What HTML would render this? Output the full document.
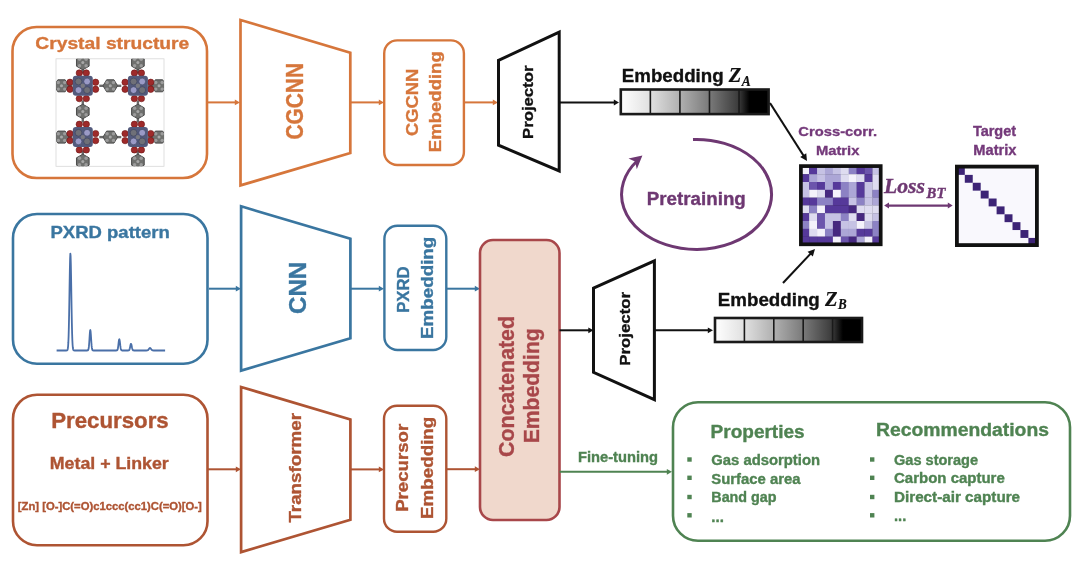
<!DOCTYPE html>
<html><head><meta charset="utf-8"><style>
html,body{margin:0;padding:0;background:#fff;}
svg{display:block;filter:blur(0.45px);}
</style></head><body>
<svg width="1080" height="588" viewBox="0 0 1080 588">
<rect width="1080" height="588" fill="#fff"/>
<rect x="12.5" y="27" width="194.5" height="151" rx="24" ry="24" fill="none" stroke="#d6763b" stroke-width="2.6"/><text x="35.3" y="48.7" font-family='"Liberation Sans", sans-serif' font-size="17" font-weight="bold" font-style="normal" fill="#d6763b" stroke="#d6763b" stroke-width="0.35" text-anchor="start" textLength="154" lengthAdjust="spacingAndGlyphs">Crystal structure</text><defs><clipPath id="cclip"><rect x="56" y="58.8" width="108" height="107.5"/></clipPath></defs><rect x="56" y="58.8" width="108" height="107.5" fill="#fff" stroke="#d8d8d8" stroke-width="0.8"/><rect x="99.3" y="84.6" width="22" height="2.4" fill="#6a6a6a"/><polygon points="117.60,85.80 113.95,91.81 106.65,91.81 103.00,85.80 106.65,79.79 113.95,79.79" fill="#6f706e" stroke="#4c4c4c" stroke-width="1"/><circle cx="107.10" cy="82.50" r="1.7" fill="#9c9c9c"/><circle cx="113.50" cy="82.50" r="1.7" fill="#9c9c9c"/><circle cx="107.10" cy="89.10" r="1.7" fill="#9c9c9c"/><circle cx="113.50" cy="89.10" r="1.7" fill="#9c9c9c"/><circle cx="110.3" cy="85.8" r="1.5" fill="#a8a8a8"/><rect x="99.3" y="135.9" width="22" height="2.4" fill="#6a6a6a"/><polygon points="117.60,137.10 113.95,143.11 106.65,143.11 103.00,137.10 106.65,131.09 113.95,131.09" fill="#6f706e" stroke="#4c4c4c" stroke-width="1"/><circle cx="107.10" cy="133.80" r="1.7" fill="#9c9c9c"/><circle cx="113.50" cy="133.80" r="1.7" fill="#9c9c9c"/><circle cx="107.10" cy="140.40" r="1.7" fill="#9c9c9c"/><circle cx="113.50" cy="140.40" r="1.7" fill="#9c9c9c"/><circle cx="110.3" cy="137.1" r="1.5" fill="#a8a8a8"/><rect x="81.6" y="100.5" width="2.4" height="22" fill="#6a6a6a"/><polygon points="89.12,115.15 82.80,118.80 76.48,115.15 76.48,107.85 82.80,104.20 89.12,107.85" fill="#6f706e" stroke="#4c4c4c" stroke-width="1"/><circle cx="79.50" cy="108.30" r="1.7" fill="#9c9c9c"/><circle cx="79.50" cy="114.70" r="1.7" fill="#9c9c9c"/><circle cx="86.10" cy="108.30" r="1.7" fill="#9c9c9c"/><circle cx="86.10" cy="114.70" r="1.7" fill="#9c9c9c"/><circle cx="82.8" cy="111.5" r="1.5" fill="#a8a8a8"/><rect x="136.70000000000002" y="100.5" width="2.4" height="22" fill="#6a6a6a"/><polygon points="144.22,115.15 137.90,118.80 131.58,115.15 131.58,107.85 137.90,104.20 144.22,107.85" fill="#6f706e" stroke="#4c4c4c" stroke-width="1"/><circle cx="134.60" cy="108.30" r="1.7" fill="#9c9c9c"/><circle cx="134.60" cy="114.70" r="1.7" fill="#9c9c9c"/><circle cx="141.20" cy="108.30" r="1.7" fill="#9c9c9c"/><circle cx="141.20" cy="114.70" r="1.7" fill="#9c9c9c"/><circle cx="137.9" cy="111.5" r="1.5" fill="#a8a8a8"/><g clip-path="url(#cclip)"><rect x="50.5" y="84.6" width="22" height="2.4" fill="#6a6a6a"/><polygon points="68.80,85.80 65.15,91.81 57.85,91.81 54.20,85.80 57.85,79.79 65.15,79.79" fill="#6f706e" stroke="#4c4c4c" stroke-width="1"/><circle cx="58.30" cy="82.50" r="1.7" fill="#9c9c9c"/><circle cx="64.70" cy="82.50" r="1.7" fill="#9c9c9c"/><circle cx="58.30" cy="89.10" r="1.7" fill="#9c9c9c"/><circle cx="64.70" cy="89.10" r="1.7" fill="#9c9c9c"/><circle cx="61.5" cy="85.8" r="1.5" fill="#a8a8a8"/><rect x="148" y="84.6" width="22" height="2.4" fill="#6a6a6a"/><polygon points="166.30,85.80 162.65,91.81 155.35,91.81 151.70,85.80 155.35,79.79 162.65,79.79" fill="#6f706e" stroke="#4c4c4c" stroke-width="1"/><circle cx="155.80" cy="82.50" r="1.7" fill="#9c9c9c"/><circle cx="162.20" cy="82.50" r="1.7" fill="#9c9c9c"/><circle cx="155.80" cy="89.10" r="1.7" fill="#9c9c9c"/><circle cx="162.20" cy="89.10" r="1.7" fill="#9c9c9c"/><circle cx="159" cy="85.8" r="1.5" fill="#a8a8a8"/><rect x="50.5" y="135.9" width="22" height="2.4" fill="#6a6a6a"/><polygon points="68.80,137.10 65.15,143.11 57.85,143.11 54.20,137.10 57.85,131.09 65.15,131.09" fill="#6f706e" stroke="#4c4c4c" stroke-width="1"/><circle cx="58.30" cy="133.80" r="1.7" fill="#9c9c9c"/><circle cx="64.70" cy="133.80" r="1.7" fill="#9c9c9c"/><circle cx="58.30" cy="140.40" r="1.7" fill="#9c9c9c"/><circle cx="64.70" cy="140.40" r="1.7" fill="#9c9c9c"/><circle cx="61.5" cy="137.1" r="1.5" fill="#a8a8a8"/><rect x="148" y="135.9" width="22" height="2.4" fill="#6a6a6a"/><polygon points="166.30,137.10 162.65,143.11 155.35,143.11 151.70,137.10 155.35,131.09 162.65,131.09" fill="#6f706e" stroke="#4c4c4c" stroke-width="1"/><circle cx="155.80" cy="133.80" r="1.7" fill="#9c9c9c"/><circle cx="162.20" cy="133.80" r="1.7" fill="#9c9c9c"/><circle cx="155.80" cy="140.40" r="1.7" fill="#9c9c9c"/><circle cx="162.20" cy="140.40" r="1.7" fill="#9c9c9c"/><circle cx="159" cy="137.1" r="1.5" fill="#a8a8a8"/><rect x="81.6" y="51.5" width="2.4" height="22" fill="#6a6a6a"/><polygon points="89.12,66.15 82.80,69.80 76.48,66.15 76.48,58.85 82.80,55.20 89.12,58.85" fill="#6f706e" stroke="#4c4c4c" stroke-width="1"/><circle cx="79.50" cy="59.30" r="1.7" fill="#9c9c9c"/><circle cx="79.50" cy="65.70" r="1.7" fill="#9c9c9c"/><circle cx="86.10" cy="59.30" r="1.7" fill="#9c9c9c"/><circle cx="86.10" cy="65.70" r="1.7" fill="#9c9c9c"/><circle cx="82.8" cy="62.5" r="1.5" fill="#a8a8a8"/><rect x="81.6" y="150.5" width="2.4" height="22" fill="#6a6a6a"/><polygon points="89.12,165.15 82.80,168.80 76.48,165.15 76.48,157.85 82.80,154.20 89.12,157.85" fill="#6f706e" stroke="#4c4c4c" stroke-width="1"/><circle cx="79.50" cy="158.30" r="1.7" fill="#9c9c9c"/><circle cx="79.50" cy="164.70" r="1.7" fill="#9c9c9c"/><circle cx="86.10" cy="158.30" r="1.7" fill="#9c9c9c"/><circle cx="86.10" cy="164.70" r="1.7" fill="#9c9c9c"/><circle cx="82.8" cy="161.5" r="1.5" fill="#a8a8a8"/><rect x="136.70000000000002" y="51.5" width="2.4" height="22" fill="#6a6a6a"/><polygon points="144.22,66.15 137.90,69.80 131.58,66.15 131.58,58.85 137.90,55.20 144.22,58.85" fill="#6f706e" stroke="#4c4c4c" stroke-width="1"/><circle cx="134.60" cy="59.30" r="1.7" fill="#9c9c9c"/><circle cx="134.60" cy="65.70" r="1.7" fill="#9c9c9c"/><circle cx="141.20" cy="59.30" r="1.7" fill="#9c9c9c"/><circle cx="141.20" cy="65.70" r="1.7" fill="#9c9c9c"/><circle cx="137.9" cy="62.5" r="1.5" fill="#a8a8a8"/><rect x="136.70000000000002" y="150.5" width="2.4" height="22" fill="#6a6a6a"/><polygon points="144.22,165.15 137.90,168.80 131.58,165.15 131.58,157.85 137.90,154.20 144.22,157.85" fill="#6f706e" stroke="#4c4c4c" stroke-width="1"/><circle cx="134.60" cy="158.30" r="1.7" fill="#9c9c9c"/><circle cx="134.60" cy="164.70" r="1.7" fill="#9c9c9c"/><circle cx="141.20" cy="158.30" r="1.7" fill="#9c9c9c"/><circle cx="141.20" cy="164.70" r="1.7" fill="#9c9c9c"/><circle cx="137.9" cy="161.5" r="1.5" fill="#a8a8a8"/></g><circle cx="70.0" cy="82.3" r="3.2" fill="#9e2a2a" stroke="#6e1616" stroke-width="0.6"/><circle cx="79.3" cy="73.0" r="3.2" fill="#9e2a2a" stroke="#6e1616" stroke-width="0.6"/><circle cx="70.0" cy="89.3" r="3.2" fill="#9e2a2a" stroke="#6e1616" stroke-width="0.6"/><circle cx="86.3" cy="73.0" r="3.2" fill="#9e2a2a" stroke="#6e1616" stroke-width="0.6"/><circle cx="95.6" cy="82.3" r="3.2" fill="#9e2a2a" stroke="#6e1616" stroke-width="0.6"/><circle cx="79.3" cy="98.6" r="3.2" fill="#9e2a2a" stroke="#6e1616" stroke-width="0.6"/><circle cx="95.6" cy="89.3" r="3.2" fill="#9e2a2a" stroke="#6e1616" stroke-width="0.6"/><circle cx="86.3" cy="98.6" r="3.2" fill="#9e2a2a" stroke="#6e1616" stroke-width="0.6"/><rect x="72.8" y="75.8" width="20" height="20" rx="3" fill="#535a7c"/><circle cx="78.5" cy="81.5" r="3.4" fill="#6f7078" stroke="#3a3f5a" stroke-width="0.6"/><circle cx="87.1" cy="81.5" r="3.4" fill="#9a9ac6" stroke="#3a3f5a" stroke-width="0.6"/><circle cx="78.5" cy="90.1" r="3.4" fill="#9a9ac6" stroke="#3a3f5a" stroke-width="0.6"/><circle cx="87.1" cy="90.1" r="3.4" fill="#6f7078" stroke="#3a3f5a" stroke-width="0.6"/><circle cx="82.8" cy="85.8" r="2.2" fill="#7a7a80"/><circle cx="125.10000000000001" cy="82.3" r="3.2" fill="#9e2a2a" stroke="#6e1616" stroke-width="0.6"/><circle cx="134.4" cy="73.0" r="3.2" fill="#9e2a2a" stroke="#6e1616" stroke-width="0.6"/><circle cx="125.10000000000001" cy="89.3" r="3.2" fill="#9e2a2a" stroke="#6e1616" stroke-width="0.6"/><circle cx="141.4" cy="73.0" r="3.2" fill="#9e2a2a" stroke="#6e1616" stroke-width="0.6"/><circle cx="150.70000000000002" cy="82.3" r="3.2" fill="#9e2a2a" stroke="#6e1616" stroke-width="0.6"/><circle cx="134.4" cy="98.6" r="3.2" fill="#9e2a2a" stroke="#6e1616" stroke-width="0.6"/><circle cx="150.70000000000002" cy="89.3" r="3.2" fill="#9e2a2a" stroke="#6e1616" stroke-width="0.6"/><circle cx="141.4" cy="98.6" r="3.2" fill="#9e2a2a" stroke="#6e1616" stroke-width="0.6"/><rect x="127.9" y="75.8" width="20" height="20" rx="3" fill="#535a7c"/><circle cx="133.6" cy="81.5" r="3.4" fill="#6f7078" stroke="#3a3f5a" stroke-width="0.6"/><circle cx="142.20000000000002" cy="81.5" r="3.4" fill="#9a9ac6" stroke="#3a3f5a" stroke-width="0.6"/><circle cx="133.6" cy="90.1" r="3.4" fill="#9a9ac6" stroke="#3a3f5a" stroke-width="0.6"/><circle cx="142.20000000000002" cy="90.1" r="3.4" fill="#6f7078" stroke="#3a3f5a" stroke-width="0.6"/><circle cx="137.9" cy="85.8" r="2.2" fill="#7a7a80"/><circle cx="70.0" cy="133.6" r="3.2" fill="#9e2a2a" stroke="#6e1616" stroke-width="0.6"/><circle cx="79.3" cy="124.3" r="3.2" fill="#9e2a2a" stroke="#6e1616" stroke-width="0.6"/><circle cx="70.0" cy="140.6" r="3.2" fill="#9e2a2a" stroke="#6e1616" stroke-width="0.6"/><circle cx="86.3" cy="124.3" r="3.2" fill="#9e2a2a" stroke="#6e1616" stroke-width="0.6"/><circle cx="95.6" cy="133.6" r="3.2" fill="#9e2a2a" stroke="#6e1616" stroke-width="0.6"/><circle cx="79.3" cy="149.9" r="3.2" fill="#9e2a2a" stroke="#6e1616" stroke-width="0.6"/><circle cx="95.6" cy="140.6" r="3.2" fill="#9e2a2a" stroke="#6e1616" stroke-width="0.6"/><circle cx="86.3" cy="149.9" r="3.2" fill="#9e2a2a" stroke="#6e1616" stroke-width="0.6"/><rect x="72.8" y="127.1" width="20" height="20" rx="3" fill="#535a7c"/><circle cx="78.5" cy="132.79999999999998" r="3.4" fill="#6f7078" stroke="#3a3f5a" stroke-width="0.6"/><circle cx="87.1" cy="132.79999999999998" r="3.4" fill="#9a9ac6" stroke="#3a3f5a" stroke-width="0.6"/><circle cx="78.5" cy="141.4" r="3.4" fill="#9a9ac6" stroke="#3a3f5a" stroke-width="0.6"/><circle cx="87.1" cy="141.4" r="3.4" fill="#6f7078" stroke="#3a3f5a" stroke-width="0.6"/><circle cx="82.8" cy="137.1" r="2.2" fill="#7a7a80"/><circle cx="125.10000000000001" cy="133.6" r="3.2" fill="#9e2a2a" stroke="#6e1616" stroke-width="0.6"/><circle cx="134.4" cy="124.3" r="3.2" fill="#9e2a2a" stroke="#6e1616" stroke-width="0.6"/><circle cx="125.10000000000001" cy="140.6" r="3.2" fill="#9e2a2a" stroke="#6e1616" stroke-width="0.6"/><circle cx="141.4" cy="124.3" r="3.2" fill="#9e2a2a" stroke="#6e1616" stroke-width="0.6"/><circle cx="150.70000000000002" cy="133.6" r="3.2" fill="#9e2a2a" stroke="#6e1616" stroke-width="0.6"/><circle cx="134.4" cy="149.9" r="3.2" fill="#9e2a2a" stroke="#6e1616" stroke-width="0.6"/><circle cx="150.70000000000002" cy="140.6" r="3.2" fill="#9e2a2a" stroke="#6e1616" stroke-width="0.6"/><circle cx="141.4" cy="149.9" r="3.2" fill="#9e2a2a" stroke="#6e1616" stroke-width="0.6"/><rect x="127.9" y="127.1" width="20" height="20" rx="3" fill="#535a7c"/><circle cx="133.6" cy="132.79999999999998" r="3.4" fill="#6f7078" stroke="#3a3f5a" stroke-width="0.6"/><circle cx="142.20000000000002" cy="132.79999999999998" r="3.4" fill="#9a9ac6" stroke="#3a3f5a" stroke-width="0.6"/><circle cx="133.6" cy="141.4" r="3.4" fill="#9a9ac6" stroke="#3a3f5a" stroke-width="0.6"/><circle cx="142.20000000000002" cy="141.4" r="3.4" fill="#6f7078" stroke="#3a3f5a" stroke-width="0.6"/><circle cx="137.9" cy="137.1" r="2.2" fill="#7a7a80"/><line x1="207" y1="102.4" x2="235.8" y2="102.4" stroke="#d6763b" stroke-width="2.0"/><polygon points="240,102.4 234.8,105.30000000000001 234.8,99.5" fill="#d6763b"/><polygon points="240.5,20 350.3,52.7 350.3,153 240.5,185.4" fill="none" stroke="#d6763b" stroke-width="2.7" stroke-linejoin="miter"/><text x="303.4" y="101.25" font-family='"Liberation Sans", sans-serif' font-size="23" font-weight="bold" font-style="normal" fill="#d6763b" stroke="#d6763b" stroke-width="0.35" text-anchor="middle" textLength="76.5" lengthAdjust="spacingAndGlyphs" transform="rotate(-90 303.4 101.25)">CGCNN</text><line x1="350.3" y1="102.4" x2="379.8" y2="102.4" stroke="#d6763b" stroke-width="2.0"/><polygon points="384,102.4 378.8,105.30000000000001 378.8,99.5" fill="#d6763b"/><rect x="384.2" y="40.4" width="79.7" height="124.6" rx="13" ry="13" fill="none" stroke="#d6763b" stroke-width="2.4"/><line x1="464" y1="102.4" x2="493.8" y2="102.4" stroke="#d6763b" stroke-width="2.0"/><polygon points="498,102.4 492.8,105.30000000000001 492.8,99.5" fill="#d6763b"/><polygon points="498.5,60.3 559.2,32.2 559.2,171 498.5,145.2" fill="none" stroke="#111111" stroke-width="3" stroke-linejoin="miter"/><line x1="559.2" y1="102.5" x2="614.8" y2="102.5" stroke="#111111" stroke-width="2.0"/><polygon points="619,102.5 613.8,105.4 613.8,99.6" fill="#111111"/><defs><linearGradient id="ga" x1="0" x2="1" y1="0" y2="0"><stop offset="0" stop-color="#ffffff"/><stop offset="0.2" stop-color="#e0e0e0"/><stop offset="0.4" stop-color="#b0b0b0"/><stop offset="0.6" stop-color="#7a7a7a"/><stop offset="0.8" stop-color="#3a3a3a"/><stop offset="0.87" stop-color="#000"/><stop offset="1" stop-color="#000"/></linearGradient></defs><rect x="620.8" y="89.5" width="147.8" height="24.6" fill="url(#ga)" stroke="#1a1a1a" stroke-width="2.6"/><line x1="650.3599999999999" y1="89.5" x2="650.3599999999999" y2="114.1" stroke="#1a1a1a" stroke-width="1.6"/><line x1="679.92" y1="89.5" x2="679.92" y2="114.1" stroke="#1a1a1a" stroke-width="1.6"/><line x1="709.48" y1="89.5" x2="709.48" y2="114.1" stroke="#1a1a1a" stroke-width="1.6"/><line x1="739.04" y1="89.5" x2="739.04" y2="114.1" stroke="#1a1a1a" stroke-width="1.6"/><text x="621.8" y="82" font-family='"Liberation Sans", sans-serif' font-size="18.5" font-weight="bold" font-style="normal" fill="#111111" stroke="#111111" stroke-width="0.35" text-anchor="start" textLength="101.9" lengthAdjust="spacingAndGlyphs">Embedding</text><text x="728.8" y="82" font-family='"Liberation Serif", serif' font-size="20.5" font-weight="bold" font-style="italic" fill="#111111" stroke="#111111" stroke-width="0.2" text-anchor="start">Z</text><text x="741.8" y="86.2" font-family='"Liberation Serif", serif' font-size="14.5" font-weight="bold" font-style="italic" fill="#111111" stroke="#111111" stroke-width="0.2" text-anchor="start" textLength="9" lengthAdjust="spacingAndGlyphs">A</text><line x1="770" y1="103" x2="803.7731058314428" y2="155.94162535739676" stroke="#111111" stroke-width="2.1"/><polygon points="807,161 800.2002653511213,157.03469941809723 806.2703149222452,153.16242641582855" fill="#111111"/><line x1="783" y1="283" x2="810.88781180597" y2="253.36919995615682" stroke="#111111" stroke-width="2.1"/><polygon points="815,249 812.8239670806591,256.5647128652676 807.5809271332711,251.63008703243165" fill="#111111"/><path d="M 693 139.5 A 75 55 0 1 1 637 161" fill="none" stroke="#6e3872" stroke-width="3"/><polygon points="642.4,155.6 628.5,158.6 635,161.5 636.8,169.3" fill="#6e3872"/><text x="696.3" y="205" font-family='"Liberation Sans", sans-serif' font-size="17.5" font-weight="bold" font-style="normal" fill="#6e3872" stroke="#6e3872" stroke-width="0.35" text-anchor="middle" textLength="99" lengthAdjust="spacingAndGlyphs">Pretraining</text><text x="837.7" y="135.8" font-family='"Liberation Sans", sans-serif' font-size="13.5" font-weight="bold" font-style="normal" fill="#74397a" stroke="#74397a" stroke-width="0.35" text-anchor="middle" textLength="78.7" lengthAdjust="spacingAndGlyphs">Cross-corr.</text><text x="837.7" y="154.8" font-family='"Liberation Sans", sans-serif' font-size="13.5" font-weight="bold" font-style="normal" fill="#74397a" stroke="#74397a" stroke-width="0.35" text-anchor="middle" textLength="43.5" lengthAdjust="spacingAndGlyphs">Matrix</text><text x="994.5" y="136.3" font-family='"Liberation Sans", sans-serif' font-size="14" font-weight="bold" font-style="normal" fill="#74397a" stroke="#74397a" stroke-width="0.35" text-anchor="middle" textLength="43.2" lengthAdjust="spacingAndGlyphs">Target</text><text x="994.9" y="155" font-family='"Liberation Sans", sans-serif' font-size="14" font-weight="bold" font-style="normal" fill="#74397a" stroke="#74397a" stroke-width="0.35" text-anchor="middle" textLength="43.2" lengthAdjust="spacingAndGlyphs">Matrix</text><rect x="800.9" y="166.1" width="79.8" height="78.2" fill="#111"/><rect x="801.20" y="166.40" width="8.17" height="8.05" fill="#f4f2fb"/><rect x="809.12" y="166.40" width="8.17" height="8.05" fill="#56399a"/><rect x="817.04" y="166.40" width="8.17" height="8.05" fill="#c6c2e4"/><rect x="824.96" y="166.40" width="8.17" height="8.05" fill="#aca6d6"/><rect x="832.88" y="166.40" width="8.17" height="8.05" fill="#c6c2e4"/><rect x="840.80" y="166.40" width="8.17" height="8.05" fill="#dedcf0"/><rect x="848.72" y="166.40" width="8.17" height="8.05" fill="#8c82c4"/><rect x="856.64" y="166.40" width="8.17" height="8.05" fill="#56399a"/><rect x="864.56" y="166.40" width="8.17" height="8.05" fill="#6c55ac"/><rect x="872.48" y="166.40" width="8.17" height="8.05" fill="#c6c2e4"/><rect x="801.20" y="174.20" width="8.17" height="8.05" fill="#56399a"/><rect x="809.12" y="174.20" width="8.17" height="8.05" fill="#aca6d6"/><rect x="817.04" y="174.20" width="8.17" height="8.05" fill="#c6c2e4"/><rect x="824.96" y="174.20" width="8.17" height="8.05" fill="#aca6d6"/><rect x="832.88" y="174.20" width="8.17" height="8.05" fill="#aca6d6"/><rect x="840.80" y="174.20" width="8.17" height="8.05" fill="#dedcf0"/><rect x="848.72" y="174.20" width="8.17" height="8.05" fill="#f4f2fb"/><rect x="856.64" y="174.20" width="8.17" height="8.05" fill="#dedcf0"/><rect x="864.56" y="174.20" width="8.17" height="8.05" fill="#56399a"/><rect x="872.48" y="174.20" width="8.17" height="8.05" fill="#dedcf0"/><rect x="801.20" y="182.00" width="8.17" height="8.05" fill="#c6c2e4"/><rect x="809.12" y="182.00" width="8.17" height="8.05" fill="#6c55ac"/><rect x="817.04" y="182.00" width="8.17" height="8.05" fill="#56399a"/><rect x="824.96" y="182.00" width="8.17" height="8.05" fill="#aca6d6"/><rect x="832.88" y="182.00" width="8.17" height="8.05" fill="#56399a"/><rect x="840.80" y="182.00" width="8.17" height="8.05" fill="#8c82c4"/><rect x="848.72" y="182.00" width="8.17" height="8.05" fill="#aca6d6"/><rect x="856.64" y="182.00" width="8.17" height="8.05" fill="#56399a"/><rect x="864.56" y="182.00" width="8.17" height="8.05" fill="#c6c2e4"/><rect x="872.48" y="182.00" width="8.17" height="8.05" fill="#dedcf0"/><rect x="801.20" y="189.80" width="8.17" height="8.05" fill="#c6c2e4"/><rect x="809.12" y="189.80" width="8.17" height="8.05" fill="#f4f2fb"/><rect x="817.04" y="189.80" width="8.17" height="8.05" fill="#dedcf0"/><rect x="824.96" y="189.80" width="8.17" height="8.05" fill="#46287f"/><rect x="832.88" y="189.80" width="8.17" height="8.05" fill="#f4f2fb"/><rect x="840.80" y="189.80" width="8.17" height="8.05" fill="#8c82c4"/><rect x="848.72" y="189.80" width="8.17" height="8.05" fill="#aca6d6"/><rect x="856.64" y="189.80" width="8.17" height="8.05" fill="#56399a"/><rect x="864.56" y="189.80" width="8.17" height="8.05" fill="#c6c2e4"/><rect x="872.48" y="189.80" width="8.17" height="8.05" fill="#8c82c4"/><rect x="801.20" y="197.60" width="8.17" height="8.05" fill="#56399a"/><rect x="809.12" y="197.60" width="8.17" height="8.05" fill="#56399a"/><rect x="817.04" y="197.60" width="8.17" height="8.05" fill="#8c82c4"/><rect x="824.96" y="197.60" width="8.17" height="8.05" fill="#8c82c4"/><rect x="832.88" y="197.60" width="8.17" height="8.05" fill="#56399a"/><rect x="840.80" y="197.60" width="8.17" height="8.05" fill="#56399a"/><rect x="848.72" y="197.60" width="8.17" height="8.05" fill="#c6c2e4"/><rect x="856.64" y="197.60" width="8.17" height="8.05" fill="#8c82c4"/><rect x="864.56" y="197.60" width="8.17" height="8.05" fill="#c6c2e4"/><rect x="872.48" y="197.60" width="8.17" height="8.05" fill="#aca6d6"/><rect x="801.20" y="205.40" width="8.17" height="8.05" fill="#dedcf0"/><rect x="809.12" y="205.40" width="8.17" height="8.05" fill="#8c82c4"/><rect x="817.04" y="205.40" width="8.17" height="8.05" fill="#f4f2fb"/><rect x="824.96" y="205.40" width="8.17" height="8.05" fill="#56399a"/><rect x="832.88" y="205.40" width="8.17" height="8.05" fill="#56399a"/><rect x="840.80" y="205.40" width="8.17" height="8.05" fill="#56399a"/><rect x="848.72" y="205.40" width="8.17" height="8.05" fill="#46287f"/><rect x="856.64" y="205.40" width="8.17" height="8.05" fill="#dedcf0"/><rect x="864.56" y="205.40" width="8.17" height="8.05" fill="#dedcf0"/><rect x="872.48" y="205.40" width="8.17" height="8.05" fill="#dedcf0"/><rect x="801.20" y="213.20" width="8.17" height="8.05" fill="#56399a"/><rect x="809.12" y="213.20" width="8.17" height="8.05" fill="#dedcf0"/><rect x="817.04" y="213.20" width="8.17" height="8.05" fill="#6c55ac"/><rect x="824.96" y="213.20" width="8.17" height="8.05" fill="#c6c2e4"/><rect x="832.88" y="213.20" width="8.17" height="8.05" fill="#c6c2e4"/><rect x="840.80" y="213.20" width="8.17" height="8.05" fill="#8c82c4"/><rect x="848.72" y="213.20" width="8.17" height="8.05" fill="#dedcf0"/><rect x="856.64" y="213.20" width="8.17" height="8.05" fill="#46287f"/><rect x="864.56" y="213.20" width="8.17" height="8.05" fill="#dedcf0"/><rect x="872.48" y="213.20" width="8.17" height="8.05" fill="#c6c2e4"/><rect x="801.20" y="221.00" width="8.17" height="8.05" fill="#8c82c4"/><rect x="809.12" y="221.00" width="8.17" height="8.05" fill="#f4f2fb"/><rect x="817.04" y="221.00" width="8.17" height="8.05" fill="#6c55ac"/><rect x="824.96" y="221.00" width="8.17" height="8.05" fill="#c6c2e4"/><rect x="832.88" y="221.00" width="8.17" height="8.05" fill="#46287f"/><rect x="840.80" y="221.00" width="8.17" height="8.05" fill="#c6c2e4"/><rect x="848.72" y="221.00" width="8.17" height="8.05" fill="#c6c2e4"/><rect x="856.64" y="221.00" width="8.17" height="8.05" fill="#f4f2fb"/><rect x="864.56" y="221.00" width="8.17" height="8.05" fill="#c6c2e4"/><rect x="872.48" y="221.00" width="8.17" height="8.05" fill="#8c82c4"/><rect x="801.20" y="228.80" width="8.17" height="8.05" fill="#56399a"/><rect x="809.12" y="228.80" width="8.17" height="8.05" fill="#dedcf0"/><rect x="817.04" y="228.80" width="8.17" height="8.05" fill="#f4f2fb"/><rect x="824.96" y="228.80" width="8.17" height="8.05" fill="#8c82c4"/><rect x="832.88" y="228.80" width="8.17" height="8.05" fill="#46287f"/><rect x="840.80" y="228.80" width="8.17" height="8.05" fill="#aca6d6"/><rect x="848.72" y="228.80" width="8.17" height="8.05" fill="#aca6d6"/><rect x="856.64" y="228.80" width="8.17" height="8.05" fill="#56399a"/><rect x="864.56" y="228.80" width="8.17" height="8.05" fill="#56399a"/><rect x="872.48" y="228.80" width="8.17" height="8.05" fill="#8c82c4"/><rect x="801.20" y="236.60" width="8.17" height="8.05" fill="#56399a"/><rect x="809.12" y="236.60" width="8.17" height="8.05" fill="#56399a"/><rect x="817.04" y="236.60" width="8.17" height="8.05" fill="#56399a"/><rect x="824.96" y="236.60" width="8.17" height="8.05" fill="#56399a"/><rect x="832.88" y="236.60" width="8.17" height="8.05" fill="#f4f2fb"/><rect x="840.80" y="236.60" width="8.17" height="8.05" fill="#6c55ac"/><rect x="848.72" y="236.60" width="8.17" height="8.05" fill="#46287f"/><rect x="856.64" y="236.60" width="8.17" height="8.05" fill="#aca6d6"/><rect x="864.56" y="236.60" width="8.17" height="8.05" fill="#f4f2fb"/><rect x="872.48" y="236.60" width="8.17" height="8.05" fill="#56399a"/><rect x="800.9" y="166.1" width="79.8" height="78.2" fill="none" stroke="#111" stroke-width="3.7"/><rect x="956.9" y="166.6" width="80" height="78.5" fill="#f9f8fd"/><rect x="956.85" y="167.00" width="7.95" height="7.88" fill="#3d2476"/><rect x="964.80" y="174.88" width="7.95" height="7.88" fill="#3d2476"/><rect x="972.75" y="182.76" width="7.95" height="7.88" fill="#3d2476"/><rect x="980.70" y="190.64" width="7.95" height="7.88" fill="#3d2476"/><rect x="988.65" y="198.52" width="7.95" height="7.88" fill="#3d2476"/><rect x="996.60" y="206.40" width="7.95" height="7.88" fill="#3d2476"/><rect x="1004.55" y="214.28" width="7.95" height="7.88" fill="#3d2476"/><rect x="1012.50" y="222.16" width="7.95" height="7.88" fill="#3d2476"/><rect x="1020.45" y="230.04" width="7.95" height="7.88" fill="#3d2476"/><rect x="1028.40" y="237.92" width="7.95" height="7.88" fill="#3d2476"/><rect x="956.9" y="166.6" width="80" height="78.5" fill="none" stroke="#111" stroke-width="3.8"/><text x="884" y="193" font-family='"Liberation Serif", serif' font-size="20" font-weight="bold" font-style="italic" fill="#6e3872" stroke="#6e3872" stroke-width="0.35" text-anchor="start" textLength="41" lengthAdjust="spacingAndGlyphs">Loss</text><text x="926.6" y="197.6" font-family='"Liberation Serif", serif' font-size="14.5" font-weight="bold" font-style="italic" fill="#6e3872" stroke="#6e3872" stroke-width="0.35" text-anchor="start" textLength="18.8" lengthAdjust="spacingAndGlyphs">BT</text><line x1="888" y1="205.6" x2="949" y2="205.6" stroke="#6e3872" stroke-width="2.3"/><polygon points="884.1,205.6 889,202.6 889,208.6" fill="#6e3872"/><polygon points="952.7,205.6 947.8,202.6 947.8,208.6" fill="#6e3872"/><rect x="13" y="214" width="194.5" height="149.7" rx="24" ry="24" fill="none" stroke="#3a76a0" stroke-width="2.6"/><text x="50.5" y="238.2" font-family='"Liberation Sans", sans-serif' font-size="17" font-weight="bold" font-style="normal" fill="#3a76a0" stroke="#3a76a0" stroke-width="0.35" text-anchor="start" textLength="119.3" lengthAdjust="spacingAndGlyphs">PXRD pattern</text><!--PXRD--><line x1="209" y1="288.7" x2="236.8" y2="288.7" stroke="#3a76a0" stroke-width="2.0"/><polygon points="241,288.7 235.8,291.59999999999997 235.8,285.8" fill="#3a76a0"/><polygon points="241.1,206.3 350.4,238.8 350.4,338.2 241.1,370.6" fill="none" stroke="#3a76a0" stroke-width="2.7" stroke-linejoin="miter"/><text x="305.7" y="287.85" font-family='"Liberation Sans", sans-serif' font-size="24.4" font-weight="bold" font-style="normal" fill="#3a76a0" stroke="#3a76a0" stroke-width="0.35" text-anchor="middle" textLength="52.3" lengthAdjust="spacingAndGlyphs" transform="rotate(-90 305.7 287.85)">CNN</text><line x1="350.4" y1="288.7" x2="379.8" y2="288.7" stroke="#3a76a0" stroke-width="2.0"/><polygon points="384,288.7 378.8,291.59999999999997 378.8,285.8" fill="#3a76a0"/><rect x="384.4" y="225.7" width="61.9" height="124.3" rx="13" ry="13" fill="none" stroke="#3a76a0" stroke-width="2.4"/><line x1="446.3" y1="288.7" x2="475.8" y2="288.7" stroke="#3a76a0" stroke-width="2.0"/><polygon points="480,288.7 474.8,291.59999999999997 474.8,285.8" fill="#3a76a0"/><rect x="480" y="240" width="79.5" height="280" rx="13" ry="13" fill="#f0d8cc" stroke="#a8474a" stroke-width="2.6"/><line x1="559.5" y1="330.3" x2="589.3" y2="330.3" stroke="#111111" stroke-width="2.0"/><polygon points="593.5,330.3 588.3,333.2 588.3,327.40000000000003" fill="#111111"/><polygon points="593.5,288.1 654.4,260.9 654.4,399.7 593.5,372.4" fill="none" stroke="#111111" stroke-width="3" stroke-linejoin="miter"/><line x1="654.4" y1="330.3" x2="708.8" y2="330.3" stroke="#111111" stroke-width="2.0"/><polygon points="713,330.3 707.8,333.2 707.8,327.40000000000003" fill="#111111"/><text x="629.9" y="328.85" font-family='"Liberation Sans", sans-serif' font-size="14.7" font-weight="bold" font-style="normal" fill="#111111" stroke="#111111" stroke-width="0.35" text-anchor="middle" textLength="73.9" lengthAdjust="spacingAndGlyphs" transform="rotate(-90 629.9 328.85)">Projector</text><defs><linearGradient id="gb" x1="0" x2="1" y1="0" y2="0"><stop offset="0" stop-color="#ffffff"/><stop offset="0.2" stop-color="#e0e0e0"/><stop offset="0.4" stop-color="#b0b0b0"/><stop offset="0.6" stop-color="#7a7a7a"/><stop offset="0.8" stop-color="#3a3a3a"/><stop offset="0.87" stop-color="#000"/><stop offset="1" stop-color="#000"/></linearGradient></defs><rect x="715" y="318" width="147" height="24" fill="url(#gb)" stroke="#1a1a1a" stroke-width="2.6"/><line x1="744.4" y1="318" x2="744.4" y2="342" stroke="#1a1a1a" stroke-width="1.6"/><line x1="773.8" y1="318" x2="773.8" y2="342" stroke="#1a1a1a" stroke-width="1.6"/><line x1="803.2" y1="318" x2="803.2" y2="342" stroke="#1a1a1a" stroke-width="1.6"/><line x1="832.6" y1="318" x2="832.6" y2="342" stroke="#1a1a1a" stroke-width="1.6"/><text x="717.8" y="305.7" font-family='"Liberation Sans", sans-serif' font-size="18.5" font-weight="bold" font-style="normal" fill="#111111" stroke="#111111" stroke-width="0.35" text-anchor="start" textLength="102" lengthAdjust="spacingAndGlyphs">Embedding</text><text x="825" y="305.7" font-family='"Liberation Serif", serif' font-size="20.5" font-weight="bold" font-style="italic" fill="#111111" stroke="#111111" stroke-width="0.2" text-anchor="start">Z</text><text x="838" y="309.2" font-family='"Liberation Serif", serif' font-size="14" font-weight="bold" font-style="italic" fill="#111111" stroke="#111111" stroke-width="0.2" text-anchor="start" textLength="8.7" lengthAdjust="spacingAndGlyphs">B</text><rect x="13" y="394.7" width="194.5" height="150.5" rx="24" ry="24" fill="none" stroke="#ae5433" stroke-width="2.6"/><text x="110" y="428" font-family='"Liberation Sans", sans-serif' font-size="22" font-weight="bold" font-style="normal" fill="#ae5433" stroke="#ae5433" stroke-width="0.35" text-anchor="middle" textLength="117.5" lengthAdjust="spacingAndGlyphs">Precursors</text><text x="109.3" y="468.7" font-family='"Liberation Sans", sans-serif' font-size="16" font-weight="bold" font-style="normal" fill="#ae5433" stroke="#ae5433" stroke-width="0.35" text-anchor="middle" textLength="119" lengthAdjust="spacingAndGlyphs">Metal + Linker</text><text x="109.8" y="510" font-family='"Liberation Sans", sans-serif' font-size="11" font-weight="bold" font-style="normal" fill="#ae5433" stroke="#ae5433" stroke-width="0.35" text-anchor="middle" textLength="184" lengthAdjust="spacingAndGlyphs">[Zn] [O-]C(=O)c1ccc(cc1)C(=O)[O-]</text><line x1="207.5" y1="469.3" x2="236.8" y2="469.3" stroke="#ae5433" stroke-width="2.0"/><polygon points="241,469.3 235.8,472.2 235.8,466.40000000000003" fill="#ae5433"/><polygon points="241.1,387 350.4,419.4 350.4,519.8 241.1,552.1" fill="none" stroke="#ae5433" stroke-width="2.7" stroke-linejoin="miter"/><line x1="350.4" y1="469.4" x2="379.8" y2="469.4" stroke="#ae5433" stroke-width="2.0"/><polygon points="384,469.4 378.8,472.29999999999995 378.8,466.5" fill="#ae5433"/><rect x="384" y="405.7" width="62.3" height="126" rx="13" ry="13" fill="none" stroke="#ae5433" stroke-width="2.4"/><line x1="446.3" y1="469.2" x2="475.8" y2="469.2" stroke="#ae5433" stroke-width="2.0"/><polygon points="480,469.2 474.8,472.09999999999997 474.8,466.3" fill="#ae5433"/><text x="578" y="461.7" font-family='"Liberation Sans", sans-serif' font-size="14" font-weight="bold" font-style="normal" fill="#4f8352" stroke="#4f8352" stroke-width="0.35" text-anchor="start" textLength="80" lengthAdjust="spacingAndGlyphs">Fine-tuning</text><line x1="559.5" y1="471.8" x2="667.8" y2="471.8" stroke="#4f8352" stroke-width="2.0"/><polygon points="672,471.8 666.8,474.7 666.8,468.90000000000003" fill="#4f8352"/><rect x="673" y="402.3" width="397" height="138.4" rx="25" ry="25" fill="none" stroke="#4f8352" stroke-width="2.6"/><text x="710.6" y="438.3" font-family='"Liberation Sans", sans-serif' font-size="17.5" font-weight="bold" font-style="normal" fill="#4f8352" stroke="#4f8352" stroke-width="0.35" text-anchor="start" textLength="94" lengthAdjust="spacingAndGlyphs">Properties</text><text x="876" y="436.3" font-family='"Liberation Sans", sans-serif' font-size="18" font-weight="bold" font-style="normal" fill="#4f8352" stroke="#4f8352" stroke-width="0.35" text-anchor="start" textLength="173" lengthAdjust="spacingAndGlyphs">Recommendations</text><text x="417.6" y="102.25" font-family='"Liberation Sans", sans-serif' font-size="17" font-weight="bold" font-style="normal" fill="#d6763b" stroke="#d6763b" stroke-width="0.35" text-anchor="middle" textLength="67.3" lengthAdjust="spacingAndGlyphs" transform="rotate(-90 417.6 102.25)">CGCNN</text><text x="441.4" y="101.7" font-family='"Liberation Sans", sans-serif' font-size="17" font-weight="bold" font-style="normal" fill="#d6763b" stroke="#d6763b" stroke-width="0.35" text-anchor="middle" textLength="101" lengthAdjust="spacingAndGlyphs" transform="rotate(-90 441.4 101.7)">Embedding</text><text x="408.6" y="289.6" font-family='"Liberation Sans", sans-serif' font-size="17" font-weight="bold" font-style="normal" fill="#3a76a0" stroke="#3a76a0" stroke-width="0.35" text-anchor="middle" textLength="46.5" lengthAdjust="spacingAndGlyphs" transform="rotate(-90 408.6 289.6)">PXRD</text><text x="433.1" y="287.8" font-family='"Liberation Sans", sans-serif' font-size="17" font-weight="bold" font-style="normal" fill="#3a76a0" stroke="#3a76a0" stroke-width="0.35" text-anchor="middle" textLength="102.3" lengthAdjust="spacingAndGlyphs" transform="rotate(-90 433.1 287.8)">Embedding</text><text x="408.1" y="467.8" font-family='"Liberation Sans", sans-serif' font-size="17" font-weight="bold" font-style="normal" fill="#ae5433" stroke="#ae5433" stroke-width="0.35" text-anchor="middle" textLength="88" lengthAdjust="spacingAndGlyphs" transform="rotate(-90 408.1 467.8)">Precursor</text><text x="433.1" y="467.8" font-family='"Liberation Sans", sans-serif' font-size="17" font-weight="bold" font-style="normal" fill="#ae5433" stroke="#ae5433" stroke-width="0.35" text-anchor="middle" textLength="102.3" lengthAdjust="spacingAndGlyphs" transform="rotate(-90 433.1 467.8)">Embedding</text><text x="301" y="467.8" font-family='"Liberation Sans", sans-serif' font-size="17" font-weight="bold" font-style="normal" fill="#ae5433" stroke="#ae5433" stroke-width="0.35" text-anchor="middle" textLength="109.6" lengthAdjust="spacingAndGlyphs" transform="rotate(-90 301 467.8)">Transformer</text><text x="532.9" y="102.25" font-family='"Liberation Sans", sans-serif' font-size="14.7" font-weight="bold" font-style="normal" fill="#111111" stroke="#111111" stroke-width="0.35" text-anchor="middle" textLength="73.5" lengthAdjust="spacingAndGlyphs" transform="rotate(-90 532.9 102.25)">Projector</text><text x="513.7" y="386.5" font-family='"Liberation Sans", sans-serif' font-size="21.5" font-weight="bold" font-style="normal" fill="#a8474a" stroke="#a8474a" stroke-width="0.35" text-anchor="middle" textLength="141" lengthAdjust="spacingAndGlyphs" transform="rotate(-90 513.7 386.5)">Concatenated</text><text x="539.5" y="385.8" font-family='"Liberation Sans", sans-serif' font-size="21.5" font-weight="bold" font-style="normal" fill="#a8474a" stroke="#a8474a" stroke-width="0.35" text-anchor="middle" textLength="115" lengthAdjust="spacingAndGlyphs" transform="rotate(-90 539.5 385.8)">Embedding</text><rect x="687.3" y="457.3" width="4.4" height="4.4" fill="#4f8352"/><text x="711.3" y="464.5" font-family='"Liberation Sans", sans-serif' font-size="14" font-weight="bold" font-style="normal" fill="#4f8352" stroke="#4f8352" stroke-width="0.35" text-anchor="start" textLength="108.7" lengthAdjust="spacingAndGlyphs">Gas adsorption</text><rect x="687.3" y="475.6" width="4.4" height="4.4" fill="#4f8352"/><text x="711.3" y="483.8" font-family='"Liberation Sans", sans-serif' font-size="14" font-weight="bold" font-style="normal" fill="#4f8352" stroke="#4f8352" stroke-width="0.35" text-anchor="start" textLength="89.2" lengthAdjust="spacingAndGlyphs">Surface area</text><rect x="687.3" y="494.8" width="4.4" height="4.4" fill="#4f8352"/><text x="711.3" y="502.1" font-family='"Liberation Sans", sans-serif' font-size="14" font-weight="bold" font-style="normal" fill="#4f8352" stroke="#4f8352" stroke-width="0.35" text-anchor="start" textLength="65.3" lengthAdjust="spacingAndGlyphs">Band gap</text><rect x="687.3" y="513.0999999999999" width="4.4" height="4.4" fill="#4f8352"/><text x="711.3" y="521.5" font-family='"Liberation Sans", sans-serif' font-size="14" font-weight="bold" font-style="normal" fill="#4f8352" stroke="#4f8352" stroke-width="0.35" text-anchor="start" textLength="12.6" lengthAdjust="spacingAndGlyphs">...</text><rect x="870" y="457.3" width="4.4" height="4.4" fill="#4f8352"/><text x="894" y="464.9" font-family='"Liberation Sans", sans-serif' font-size="14" font-weight="bold" font-style="normal" fill="#4f8352" stroke="#4f8352" stroke-width="0.35" text-anchor="start" textLength="84.1" lengthAdjust="spacingAndGlyphs">Gas storage</text><rect x="870" y="475.6" width="4.4" height="4.4" fill="#4f8352"/><text x="894" y="483.2" font-family='"Liberation Sans", sans-serif' font-size="14" font-weight="bold" font-style="normal" fill="#4f8352" stroke="#4f8352" stroke-width="0.35" text-anchor="start" textLength="110.8" lengthAdjust="spacingAndGlyphs">Carbon capture</text><rect x="870" y="494.8" width="4.4" height="4.4" fill="#4f8352"/><text x="894" y="502.3" font-family='"Liberation Sans", sans-serif' font-size="14" font-weight="bold" font-style="normal" fill="#4f8352" stroke="#4f8352" stroke-width="0.35" text-anchor="start" textLength="126.1" lengthAdjust="spacingAndGlyphs">Direct-air capture</text><rect x="870" y="513.0999999999999" width="4.4" height="4.4" fill="#4f8352"/><text x="894" y="520.6" font-family='"Liberation Sans", sans-serif' font-size="14" font-weight="bold" font-style="normal" fill="#4f8352" stroke="#4f8352" stroke-width="0.35" text-anchor="start" textLength="12.3" lengthAdjust="spacingAndGlyphs">...</text><polyline points="56.60,350.50 56.85,350.50 57.10,350.50 57.35,350.50 57.60,350.50 57.85,350.50 58.10,350.50 58.35,350.50 58.60,350.50 58.85,350.50 59.10,350.50 59.35,350.50 59.60,350.50 59.85,350.50 60.10,350.50 60.35,350.50 60.60,350.50 60.85,350.50 61.10,350.50 61.35,350.50 61.60,350.50 61.85,350.50 62.10,350.50 62.35,350.50 62.60,350.50 62.85,350.50 63.10,350.50 63.35,350.50 63.60,350.50 63.85,350.50 64.10,350.50 64.35,350.50 64.60,350.50 64.85,350.50 65.10,350.50 65.35,350.50 65.60,350.50 65.85,350.50 66.10,350.50 66.35,350.49 66.60,350.48 66.85,350.44 67.10,350.35 67.35,350.11 67.60,349.56 67.85,348.43 68.10,346.26 68.35,342.43 68.60,336.24 68.85,327.09 69.10,314.82 69.35,299.98 69.60,284.08 69.85,269.40 70.10,258.53 70.35,253.64 70.60,255.77 70.85,264.45 71.10,277.91 71.35,293.63 71.60,309.13 71.85,322.54 72.10,332.96 72.35,340.28 72.60,344.97 72.85,347.72 73.10,349.20 73.35,349.94 73.60,350.27 73.85,350.42 74.10,350.47 74.35,350.49 74.60,350.50 74.85,350.50 75.10,350.50 75.35,350.50 75.60,350.50 75.85,350.50 76.10,350.50 76.35,350.50 76.60,350.50 76.85,350.50 77.10,350.50 77.35,350.50 77.60,350.50 77.85,350.50 78.10,350.50 78.35,350.50 78.60,350.50 78.85,350.50 79.10,350.50 79.35,350.50 79.60,350.50 79.85,350.50 80.10,350.50 80.35,350.50 80.60,350.50 80.85,350.50 81.10,350.50 81.35,350.50 81.60,350.50 81.85,350.50 82.10,350.50 82.35,350.50 82.60,350.50 82.85,350.50 83.10,350.50 83.35,350.50 83.60,350.50 83.85,350.50 84.10,350.50 84.35,350.50 84.60,350.50 84.85,350.50 85.10,350.50 85.35,350.50 85.60,350.50 85.85,350.50 86.10,350.50 86.35,350.50 86.60,350.50 86.85,350.50 87.10,350.50 87.35,350.48 87.60,350.45 87.85,350.36 88.10,350.12 88.35,349.61 88.60,348.62 88.85,346.89 89.10,344.26 89.35,340.78 89.60,336.83 89.85,333.16 90.10,330.67 90.35,330.04 90.60,331.47 90.85,334.53 91.10,338.42 91.35,342.26 91.60,345.43 91.85,347.69 92.10,349.09 92.35,349.86 92.60,350.24 92.85,350.40 93.10,350.47 93.35,350.49 93.60,350.50 93.85,350.50 94.10,350.50 94.35,350.50 94.60,350.50 94.85,350.50 95.10,350.50 95.35,350.50 95.60,350.50 95.85,350.50 96.10,350.50 96.35,350.50 96.60,350.50 96.85,350.50 97.10,350.50 97.35,350.50 97.60,350.50 97.85,350.50 98.10,350.50 98.35,350.50 98.60,350.50 98.85,350.50 99.10,350.50 99.35,350.50 99.60,350.50 99.85,350.50 100.10,350.50 100.35,350.50 100.60,350.50 100.85,350.50 101.10,350.50 101.35,350.50 101.60,350.50 101.85,350.50 102.10,350.50 102.35,350.50 102.60,350.50 102.85,350.50 103.10,350.50 103.35,350.50 103.60,350.50 103.85,350.50 104.10,350.50 104.35,350.50 104.60,350.50 104.85,350.50 105.10,350.50 105.35,350.50 105.60,350.50 105.85,350.50 106.10,350.50 106.35,350.50 106.60,350.50 106.85,350.50 107.10,350.50 107.35,350.50 107.60,350.50 107.85,350.50 108.10,350.50 108.35,350.50 108.60,350.50 108.85,350.50 109.10,350.50 109.35,350.50 109.60,350.50 109.85,350.50 110.10,350.50 110.35,350.50 110.60,350.50 110.85,350.50 111.10,350.50 111.35,350.50 111.60,350.50 111.85,350.50 112.10,350.50 112.35,350.50 112.60,350.50 112.85,350.50 113.10,350.50 113.35,350.50 113.60,350.50 113.85,350.50 114.10,350.50 114.35,350.50 114.60,350.50 114.85,350.50 115.10,350.50 115.35,350.50 115.60,350.50 115.85,350.50 116.10,350.50 116.35,350.49 116.60,350.47 116.85,350.42 117.10,350.29 117.35,350.01 117.60,349.46 117.85,348.51 118.10,347.06 118.35,345.14 118.60,342.96 118.85,340.94 119.10,339.57 119.35,339.22 119.60,340.01 119.85,341.70 120.10,343.84 120.35,345.96 120.60,347.70 120.85,348.95 121.10,349.72 121.35,350.15 121.60,350.36 121.85,350.45 122.10,350.48 122.35,350.49 122.60,350.50 122.85,350.50 123.10,350.50 123.35,350.50 123.60,350.50 123.85,350.50 124.10,350.50 124.35,350.50 124.60,350.50 124.85,350.50 125.10,350.50 125.35,350.50 125.60,350.50 125.85,350.50 126.10,350.50 126.35,350.50 126.60,350.50 126.85,350.50 127.10,350.50 127.35,350.50 127.60,350.50 127.85,350.50 128.10,350.49 128.35,350.48 128.60,350.44 128.85,350.35 129.10,350.16 129.35,349.79 129.60,349.17 129.85,348.25 130.10,347.07 130.35,345.77 130.60,344.63 130.85,343.92 131.10,343.86 131.35,344.45 131.60,345.52 131.85,346.81 132.10,348.04 132.35,349.01 132.60,349.69 132.85,350.10 133.10,350.32 133.35,350.43 133.60,350.47 133.85,350.49 134.10,350.50 134.35,350.50 134.60,350.50 134.85,350.50 135.10,350.50 135.35,350.50 135.60,350.50 135.85,350.50 136.10,350.50 136.35,350.50 136.60,350.50 136.85,350.50 137.10,350.50 137.35,350.50 137.60,350.50 137.85,350.50 138.10,350.50 138.35,350.50 138.60,350.50 138.85,350.50 139.10,350.50 139.35,350.50 139.60,350.50 139.85,350.50 140.10,350.50 140.35,350.50 140.60,350.50 140.85,350.50 141.10,350.50 141.35,350.50 141.60,350.50 141.85,350.50 142.10,350.50 142.35,350.50 142.60,350.50 142.85,350.50 143.10,350.50 143.35,350.50 143.60,350.50 143.85,350.50 144.10,350.50 144.35,350.50 144.60,350.50 144.85,350.50 145.10,350.50 145.35,350.50 145.60,350.50 145.85,350.50 146.10,350.50 146.35,350.49 146.60,350.49 146.85,350.47 147.10,350.44 147.35,350.39 147.60,350.31 147.85,350.18 148.10,350.00 148.35,349.75 148.60,349.45 148.85,349.11 149.10,348.76 149.35,348.43 149.60,348.17 149.85,348.02 150.10,348.01 150.35,348.13 150.60,348.37 150.85,348.69 151.10,349.04 151.35,349.39 151.60,349.70 151.85,349.95 152.10,350.15 152.35,350.29 152.60,350.38 152.85,350.43 153.10,350.47 153.35,350.48 153.60,350.49 153.85,350.50 154.10,350.50 154.35,350.50 154.60,350.50 154.85,350.50 155.10,350.50 155.35,350.50 155.60,350.50 155.85,350.50 156.10,350.50 156.35,350.50 156.60,350.50 156.85,350.50 157.10,350.50 157.35,350.50 157.60,350.50 157.85,350.50 158.10,350.50 158.35,350.50 158.60,350.50 158.85,350.50 159.10,350.50 159.35,350.50 159.60,350.50 159.85,350.50 160.10,350.50 160.35,350.50 160.60,350.50 160.85,350.50 161.10,350.50 161.35,350.50 161.60,350.50 161.85,350.50 162.10,350.50 162.35,350.50 162.60,350.50 162.85,350.50 163.10,350.50 163.35,350.50 163.60,350.50 163.85,350.50 164.10,350.50 164.35,350.50 164.60,350.50 164.85,350.50 165.10,350.50" fill="none" stroke="#4a6fa8" stroke-width="1.8" stroke-linejoin="round"/>
</svg>
</body></html>
